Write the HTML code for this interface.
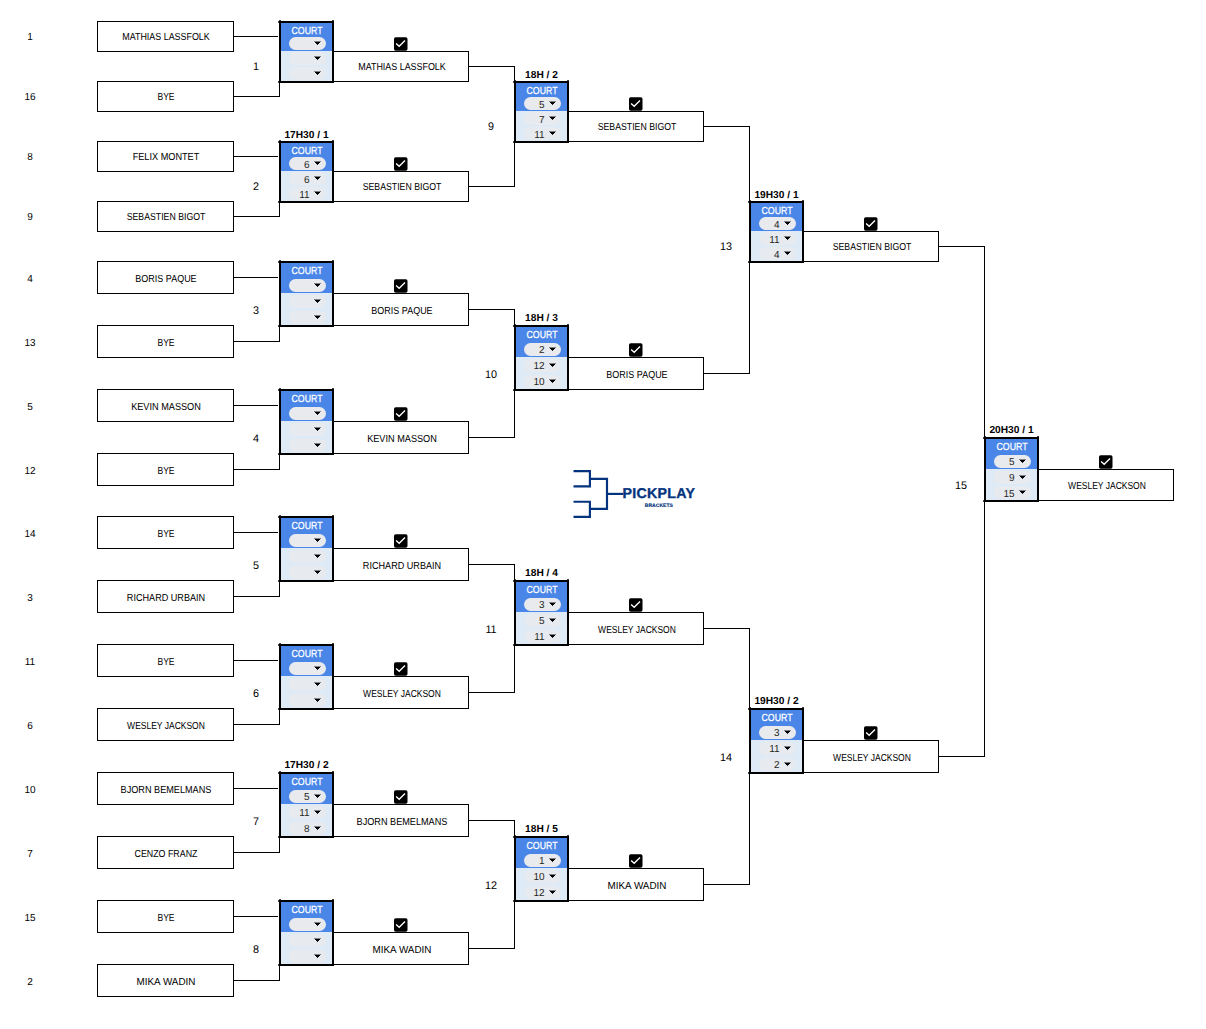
<!DOCTYPE html>
<html lang="en"><head><meta charset="utf-8"><title>Pickplay Brackets</title>
<style>
html,body{margin:0;padding:0;background:#fff}
body{width:1206px;height:1029px;position:relative;overflow:hidden;font-family:"Liberation Sans",sans-serif;color:#000;text-rendering:geometricPrecision}
section{display:contents}
i,div,svg{position:absolute;display:block}
.k{background:#000}
.nb{background:#000;opacity:.75}
.box{border:1px solid #000;box-sizing:border-box;background:#fff}
.t{width:200px;text-align:center;font-size:10.2px;line-height:12px;height:12px;white-space:nowrap;transform:scaleX(0.875);transform-origin:50% 50%}
.b{font-weight:bold;transform:scaleX(1)}
.d{transform:scaleX(.98)}
.m{font-size:11px}
.w{color:#fff;-webkit-text-stroke:0.25px #fff}
.court{width:55px;box-sizing:border-box;border:2px solid #000;background:#deeaf6}
.court .hd{left:0;top:0;width:51px;background:#4a86e8}
.pill{width:37.3px;height:13px;border-radius:6.5px;background:#e8eaed}
.pill.lt{background:#e7eaee}
.ar{width:7px;height:4px;background:linear-gradient(rgba(0,0,0,.45),rgba(0,0,0,.45)) 0 0/7px 1px no-repeat,linear-gradient(#000,#000) 1px 1px/5px 1px no-repeat,linear-gradient(#000,#000) 2px 2px/3px 1px no-repeat,linear-gradient(rgba(0,0,0,.85),rgba(0,0,0,.85)) 3px 3px/1px 1px no-repeat}
.n{width:30.5px;text-align:right;font-size:10.2px;line-height:12px;height:12px;white-space:nowrap;color:#1f1f1f;transform:scaleX(.98);transform-origin:100% 50%}
.pp{font-weight:bold;font-size:14.2px;line-height:14px;letter-spacing:0.32px;color:#04337e;-webkit-text-stroke:0.35px #04337e;white-space:nowrap;transform-origin:0 0}
.br{font-weight:bold;font-size:5px;line-height:6px;letter-spacing:0.05px;color:#04337e;-webkit-text-stroke:0.15px #04337e;white-space:nowrap;transform-origin:0 0}
.n0{transform:scaleX(0.875)}
.n1{transform:scaleX(0.842)}
.n2{transform:scaleX(0.899)}
.n3{transform:scaleX(0.858)}
.n4{transform:scaleX(0.882)}
.n5{transform:scaleX(0.899)}
.n6{transform:scaleX(0.892)}
.n7{transform:scaleX(0.834)}
.n8{transform:scaleX(0.896)}
.n9{transform:scaleX(0.868)}
.n10{transform:scaleX(0.968)}
.n11{transform:scaleX(0.861)}
</style></head>
<body>
<section class="slot">
<div class="t d" style="left:-70.3px;top:32px">1</div>
<div class="box" style="left:97px;top:21px;width:137px;height:31px"></div>
<div class="t n0" style="left:66px;top:32px">MATHIAS LASSFOLK</div>
</section>
<section class="slot">
<div class="t d" style="left:-70.3px;top:92px">16</div>
<div class="box" style="left:97px;top:81px;width:137px;height:31px"></div>
<div class="t n1" style="left:66px;top:92px">BYE</div>
</section>
<section class="slot">
<div class="t d" style="left:-70.3px;top:152px">8</div>
<div class="box" style="left:97px;top:141px;width:137px;height:31px"></div>
<div class="t n2" style="left:66px;top:152px">FELIX MONTET</div>
</section>
<section class="slot">
<div class="t d" style="left:-70.3px;top:212px">9</div>
<div class="box" style="left:97px;top:201px;width:137px;height:31px"></div>
<div class="t n3" style="left:66px;top:212px">SEBASTIEN BIGOT</div>
</section>
<section class="slot">
<div class="t d" style="left:-70.3px;top:274px">4</div>
<div class="box" style="left:97px;top:261px;width:137px;height:33px"></div>
<div class="t n4" style="left:66px;top:274px">BORIS PAQUE</div>
</section>
<section class="slot">
<div class="t d" style="left:-70.3px;top:338px">13</div>
<div class="box" style="left:97px;top:325px;width:137px;height:33px"></div>
<div class="t n1" style="left:66px;top:338px">BYE</div>
</section>
<section class="slot">
<div class="t d" style="left:-70.3px;top:402px">5</div>
<div class="box" style="left:97px;top:389px;width:137px;height:33px"></div>
<div class="t n5" style="left:66px;top:402px">KEVIN MASSON</div>
</section>
<section class="slot">
<div class="t d" style="left:-70.3px;top:466px">12</div>
<div class="box" style="left:97px;top:453px;width:137px;height:33px"></div>
<div class="t n1" style="left:66px;top:466px">BYE</div>
</section>
<section class="slot">
<div class="t d" style="left:-70.3px;top:529px">14</div>
<div class="box" style="left:97px;top:516px;width:137px;height:33px"></div>
<div class="t n1" style="left:66px;top:529px">BYE</div>
</section>
<section class="slot">
<div class="t d" style="left:-70.3px;top:593px">3</div>
<div class="box" style="left:97px;top:580px;width:137px;height:33px"></div>
<div class="t n6" style="left:66px;top:593px">RICHARD URBAIN</div>
</section>
<section class="slot">
<div class="t d" style="left:-70.3px;top:657px">11</div>
<div class="box" style="left:97px;top:644px;width:137px;height:33px"></div>
<div class="t n1" style="left:66px;top:657px">BYE</div>
</section>
<section class="slot">
<div class="t d" style="left:-70.3px;top:721px">6</div>
<div class="box" style="left:97px;top:708px;width:137px;height:33px"></div>
<div class="t n7" style="left:66px;top:721px">WESLEY JACKSON</div>
</section>
<section class="slot">
<div class="t d" style="left:-70.3px;top:785px">10</div>
<div class="box" style="left:97px;top:772px;width:137px;height:33px"></div>
<div class="t n8" style="left:66px;top:785px">BJORN BEMELMANS</div>
</section>
<section class="slot">
<div class="t d" style="left:-70.3px;top:849px">7</div>
<div class="box" style="left:97px;top:836px;width:137px;height:33px"></div>
<div class="t n9" style="left:66px;top:849px">CENZO FRANZ</div>
</section>
<section class="slot">
<div class="t d" style="left:-70.3px;top:913px">15</div>
<div class="box" style="left:97px;top:900px;width:137px;height:33px"></div>
<div class="t n1" style="left:66px;top:913px">BYE</div>
</section>
<section class="slot">
<div class="t d" style="left:-70.3px;top:977px">2</div>
<div class="box" style="left:97px;top:964px;width:137px;height:33px"></div>
<div class="t n10" style="left:66px;top:977px">MIKA WADIN</div>
</section>
<section class="lines">
<i class="k" style="left:234px;top:36px;width:44px;height:1px"></i>
<i class="k" style="left:234px;top:96px;width:46px;height:1px"></i>
<i class="k" style="left:279px;top:83px;width:1px;height:13px"></i>
<i class="k" style="left:234px;top:156px;width:44px;height:1px"></i>
<i class="k" style="left:234px;top:216px;width:46px;height:1px"></i>
<i class="k" style="left:279px;top:203px;width:1px;height:13px"></i>
<i class="k" style="left:234px;top:277px;width:44px;height:1px"></i>
<i class="k" style="left:234px;top:341px;width:46px;height:1px"></i>
<i class="k" style="left:279px;top:327px;width:1px;height:14px"></i>
<i class="k" style="left:234px;top:405px;width:44px;height:1px"></i>
<i class="k" style="left:234px;top:469px;width:46px;height:1px"></i>
<i class="k" style="left:279px;top:455px;width:1px;height:14px"></i>
<i class="k" style="left:234px;top:532px;width:44px;height:1px"></i>
<i class="k" style="left:234px;top:596px;width:46px;height:1px"></i>
<i class="k" style="left:279px;top:582px;width:1px;height:14px"></i>
<i class="k" style="left:234px;top:660px;width:44px;height:1px"></i>
<i class="k" style="left:234px;top:724px;width:46px;height:1px"></i>
<i class="k" style="left:279px;top:710px;width:1px;height:14px"></i>
<i class="k" style="left:234px;top:788px;width:44px;height:1px"></i>
<i class="k" style="left:234px;top:852px;width:46px;height:1px"></i>
<i class="k" style="left:279px;top:838px;width:1px;height:14px"></i>
<i class="k" style="left:234px;top:916px;width:44px;height:1px"></i>
<i class="k" style="left:234px;top:980px;width:46px;height:1px"></i>
<i class="k" style="left:279px;top:966px;width:1px;height:14px"></i>
<i class="k" style="left:469px;top:66px;width:46px;height:1px"></i>
<i class="k" style="left:469px;top:186px;width:46px;height:1px"></i>
<i class="k" style="left:514px;top:66px;width:1px;height:15px"></i>
<i class="k" style="left:514px;top:143px;width:1px;height:43px"></i>
<i class="k" style="left:469px;top:309px;width:46px;height:1px"></i>
<i class="k" style="left:469px;top:437px;width:46px;height:1px"></i>
<i class="k" style="left:514px;top:309px;width:1px;height:16px"></i>
<i class="k" style="left:514px;top:391px;width:1px;height:46px"></i>
<i class="k" style="left:469px;top:564px;width:46px;height:1px"></i>
<i class="k" style="left:469px;top:692px;width:46px;height:1px"></i>
<i class="k" style="left:514px;top:564px;width:1px;height:16px"></i>
<i class="k" style="left:514px;top:646px;width:1px;height:46px"></i>
<i class="k" style="left:469px;top:820px;width:46px;height:1px"></i>
<i class="k" style="left:469px;top:948px;width:46px;height:1px"></i>
<i class="k" style="left:514px;top:820px;width:1px;height:16px"></i>
<i class="k" style="left:514px;top:902px;width:1px;height:46px"></i>
<i class="k" style="left:704px;top:126px;width:46px;height:1px"></i>
<i class="k" style="left:704px;top:373px;width:46px;height:1px"></i>
<i class="k" style="left:749px;top:126px;width:1px;height:75px"></i>
<i class="k" style="left:749px;top:263px;width:1px;height:110px"></i>
<i class="k" style="left:704px;top:628px;width:46px;height:1px"></i>
<i class="k" style="left:704px;top:884px;width:46px;height:1px"></i>
<i class="k" style="left:749px;top:628px;width:1px;height:80px"></i>
<i class="k" style="left:749px;top:774px;width:1px;height:110px"></i>
<i class="k" style="left:939px;top:246px;width:46px;height:1px"></i>
<i class="k" style="left:939px;top:756px;width:46px;height:1px"></i>
<i class="k" style="left:984px;top:246px;width:1px;height:191px"></i>
<i class="k" style="left:984px;top:502px;width:1px;height:254px"></i>
</section>
<section class="match">
<div class="t d m" style="left:155.8px;top:61px">1</div>
<div class="box" style="left:333px;top:51px;width:136px;height:31px"></div>
<div class="t n0" style="left:301.5px;top:62px">MATHIAS LASSFOLK</div>
<svg class="cb" style="left:394px;top:37px" width="14" height="14" viewBox="0 0 14 14"><rect x="0" y="0.3" width="13.5" height="13.5" rx="1.7" fill="#000"/><path d="M2.1 6.4 L5.2 9.3 L11.0 3.6" fill="none" stroke="#fff" stroke-width="1.35"/></svg>
<div class="court" style="left:279px;top:21px;height:62px">
<i class="hd" style="height:28px"></i>
</div>
<i class="nb" style="left:278px;top:21px;width:1px;height:2px"></i>
<i class="nb" style="left:279px;top:20px;width:2px;height:1px"></i>
<i class="nb" style="left:332px;top:20px;width:2px;height:1px"></i>
<i class="nb" style="left:278px;top:81px;width:1px;height:2px"></i>
<div class="t w n11" style="left:206.5px;top:26px">COURT</div>
<i class="pill" style="left:288.6px;top:37px"></i>
<i class="ar" style="left:314px;top:41px"></i>
<i class="pill lt" style="left:288.6px;top:52px"></i>
<i class="ar" style="left:314px;top:56px"></i>
<i class="pill lt" style="left:288.6px;top:67px"></i>
<i class="ar" style="left:314px;top:71px"></i>
</section>
<section class="match">
<div class="t d m" style="left:155.8px;top:181px">2</div>
<div class="t b" style="left:206.5px;top:130px">17H30 / 1</div>
<div class="box" style="left:333px;top:171px;width:136px;height:31px"></div>
<div class="t n3" style="left:301.5px;top:182px">SEBASTIEN BIGOT</div>
<svg class="cb" style="left:394px;top:157px" width="14" height="14" viewBox="0 0 14 14"><rect x="0" y="0.3" width="13.5" height="13.5" rx="1.7" fill="#000"/><path d="M2.1 6.4 L5.2 9.3 L11.0 3.6" fill="none" stroke="#fff" stroke-width="1.35"/></svg>
<div class="court" style="left:279px;top:141px;height:62px">
<i class="hd" style="height:28px"></i>
</div>
<i class="nb" style="left:278px;top:141px;width:1px;height:2px"></i>
<i class="nb" style="left:279px;top:140px;width:2px;height:1px"></i>
<i class="nb" style="left:332px;top:140px;width:2px;height:1px"></i>
<i class="nb" style="left:278px;top:201px;width:1px;height:2px"></i>
<div class="t w n11" style="left:206.5px;top:146px">COURT</div>
<i class="pill" style="left:288.6px;top:157px"></i>
<i class="ar" style="left:314px;top:161px"></i>
<div class="n" style="left:278.7px;top:160px">6</div>
<i class="pill lt" style="left:288.6px;top:172px"></i>
<i class="ar" style="left:314px;top:176px"></i>
<div class="n" style="left:278.7px;top:175px">6</div>
<i class="pill lt" style="left:288.6px;top:187px"></i>
<i class="ar" style="left:314px;top:191px"></i>
<div class="n" style="left:278.7px;top:190px">11</div>
</section>
<section class="match">
<div class="t d m" style="left:155.8px;top:305px">3</div>
<div class="box" style="left:333px;top:293px;width:136px;height:33px"></div>
<div class="t n4" style="left:301.5px;top:306px">BORIS PAQUE</div>
<svg class="cb" style="left:394px;top:279px" width="14" height="14" viewBox="0 0 14 14"><rect x="0" y="0.3" width="13.5" height="13.5" rx="1.7" fill="#000"/><path d="M2.1 6.4 L5.2 9.3 L11.0 3.6" fill="none" stroke="#fff" stroke-width="1.35"/></svg>
<div class="court" style="left:279px;top:261px;height:66px">
<i class="hd" style="height:30px"></i>
</div>
<i class="nb" style="left:278px;top:261px;width:1px;height:2px"></i>
<i class="nb" style="left:279px;top:260px;width:2px;height:1px"></i>
<i class="nb" style="left:332px;top:260px;width:2px;height:1px"></i>
<i class="nb" style="left:278px;top:325px;width:1px;height:2px"></i>
<div class="t w n11" style="left:206.5px;top:266px">COURT</div>
<i class="pill" style="left:288.6px;top:279px"></i>
<i class="ar" style="left:314px;top:283px"></i>
<i class="pill lt" style="left:288.6px;top:295px"></i>
<i class="ar" style="left:314px;top:299px"></i>
<i class="pill lt" style="left:288.6px;top:311px"></i>
<i class="ar" style="left:314px;top:315px"></i>
</section>
<section class="match">
<div class="t d m" style="left:155.8px;top:433px">4</div>
<div class="box" style="left:333px;top:421px;width:136px;height:33px"></div>
<div class="t n5" style="left:301.5px;top:434px">KEVIN MASSON</div>
<svg class="cb" style="left:394px;top:407px" width="14" height="14" viewBox="0 0 14 14"><rect x="0" y="0.3" width="13.5" height="13.5" rx="1.7" fill="#000"/><path d="M2.1 6.4 L5.2 9.3 L11.0 3.6" fill="none" stroke="#fff" stroke-width="1.35"/></svg>
<div class="court" style="left:279px;top:389px;height:66px">
<i class="hd" style="height:30px"></i>
</div>
<i class="nb" style="left:278px;top:389px;width:1px;height:2px"></i>
<i class="nb" style="left:279px;top:388px;width:2px;height:1px"></i>
<i class="nb" style="left:332px;top:388px;width:2px;height:1px"></i>
<i class="nb" style="left:278px;top:453px;width:1px;height:2px"></i>
<div class="t w n11" style="left:206.5px;top:394px">COURT</div>
<i class="pill" style="left:288.6px;top:407px"></i>
<i class="ar" style="left:314px;top:411px"></i>
<i class="pill lt" style="left:288.6px;top:423px"></i>
<i class="ar" style="left:314px;top:427px"></i>
<i class="pill lt" style="left:288.6px;top:439px"></i>
<i class="ar" style="left:314px;top:443px"></i>
</section>
<section class="match">
<div class="t d m" style="left:155.8px;top:560px">5</div>
<div class="box" style="left:333px;top:548px;width:136px;height:33px"></div>
<div class="t n6" style="left:301.5px;top:561px">RICHARD URBAIN</div>
<svg class="cb" style="left:394px;top:534px" width="14" height="14" viewBox="0 0 14 14"><rect x="0" y="0.3" width="13.5" height="13.5" rx="1.7" fill="#000"/><path d="M2.1 6.4 L5.2 9.3 L11.0 3.6" fill="none" stroke="#fff" stroke-width="1.35"/></svg>
<div class="court" style="left:279px;top:516px;height:66px">
<i class="hd" style="height:30px"></i>
</div>
<i class="nb" style="left:278px;top:516px;width:1px;height:2px"></i>
<i class="nb" style="left:279px;top:515px;width:2px;height:1px"></i>
<i class="nb" style="left:332px;top:515px;width:2px;height:1px"></i>
<i class="nb" style="left:278px;top:580px;width:1px;height:2px"></i>
<div class="t w n11" style="left:206.5px;top:521px">COURT</div>
<i class="pill" style="left:288.6px;top:534px"></i>
<i class="ar" style="left:314px;top:538px"></i>
<i class="pill lt" style="left:288.6px;top:550px"></i>
<i class="ar" style="left:314px;top:554px"></i>
<i class="pill lt" style="left:288.6px;top:566px"></i>
<i class="ar" style="left:314px;top:570px"></i>
</section>
<section class="match">
<div class="t d m" style="left:155.8px;top:688px">6</div>
<div class="box" style="left:333px;top:676px;width:136px;height:33px"></div>
<div class="t n7" style="left:301.5px;top:689px">WESLEY JACKSON</div>
<svg class="cb" style="left:394px;top:662px" width="14" height="14" viewBox="0 0 14 14"><rect x="0" y="0.3" width="13.5" height="13.5" rx="1.7" fill="#000"/><path d="M2.1 6.4 L5.2 9.3 L11.0 3.6" fill="none" stroke="#fff" stroke-width="1.35"/></svg>
<div class="court" style="left:279px;top:644px;height:66px">
<i class="hd" style="height:30px"></i>
</div>
<i class="nb" style="left:278px;top:644px;width:1px;height:2px"></i>
<i class="nb" style="left:279px;top:643px;width:2px;height:1px"></i>
<i class="nb" style="left:332px;top:643px;width:2px;height:1px"></i>
<i class="nb" style="left:278px;top:708px;width:1px;height:2px"></i>
<div class="t w n11" style="left:206.5px;top:649px">COURT</div>
<i class="pill" style="left:288.6px;top:662px"></i>
<i class="ar" style="left:314px;top:666px"></i>
<i class="pill lt" style="left:288.6px;top:678px"></i>
<i class="ar" style="left:314px;top:682px"></i>
<i class="pill lt" style="left:288.6px;top:694px"></i>
<i class="ar" style="left:314px;top:698px"></i>
</section>
<section class="match">
<div class="t d m" style="left:155.8px;top:816px">7</div>
<div class="t b" style="left:206.5px;top:760px">17H30 / 2</div>
<div class="box" style="left:333px;top:804px;width:136px;height:33px"></div>
<div class="t n8" style="left:301.5px;top:817px">BJORN BEMELMANS</div>
<svg class="cb" style="left:394px;top:790px" width="14" height="14" viewBox="0 0 14 14"><rect x="0" y="0.3" width="13.5" height="13.5" rx="1.7" fill="#000"/><path d="M2.1 6.4 L5.2 9.3 L11.0 3.6" fill="none" stroke="#fff" stroke-width="1.35"/></svg>
<div class="court" style="left:279px;top:772px;height:66px">
<i class="hd" style="height:30px"></i>
</div>
<i class="nb" style="left:278px;top:772px;width:1px;height:2px"></i>
<i class="nb" style="left:279px;top:771px;width:2px;height:1px"></i>
<i class="nb" style="left:332px;top:771px;width:2px;height:1px"></i>
<i class="nb" style="left:278px;top:836px;width:1px;height:2px"></i>
<div class="t w n11" style="left:206.5px;top:777px">COURT</div>
<i class="pill" style="left:288.6px;top:790px"></i>
<i class="ar" style="left:314px;top:794px"></i>
<div class="n" style="left:278.7px;top:792px">5</div>
<i class="pill lt" style="left:288.6px;top:806px"></i>
<i class="ar" style="left:314px;top:810px"></i>
<div class="n" style="left:278.7px;top:808px">11</div>
<i class="pill lt" style="left:288.6px;top:822px"></i>
<i class="ar" style="left:314px;top:826px"></i>
<div class="n" style="left:278.7px;top:824px">8</div>
</section>
<section class="match">
<div class="t d m" style="left:155.8px;top:944px">8</div>
<div class="box" style="left:333px;top:932px;width:136px;height:33px"></div>
<div class="t n10" style="left:301.5px;top:945px">MIKA WADIN</div>
<svg class="cb" style="left:394px;top:918px" width="14" height="14" viewBox="0 0 14 14"><rect x="0" y="0.3" width="13.5" height="13.5" rx="1.7" fill="#000"/><path d="M2.1 6.4 L5.2 9.3 L11.0 3.6" fill="none" stroke="#fff" stroke-width="1.35"/></svg>
<div class="court" style="left:279px;top:900px;height:66px">
<i class="hd" style="height:30px"></i>
</div>
<i class="nb" style="left:278px;top:900px;width:1px;height:2px"></i>
<i class="nb" style="left:279px;top:899px;width:2px;height:1px"></i>
<i class="nb" style="left:332px;top:899px;width:2px;height:1px"></i>
<i class="nb" style="left:278px;top:964px;width:1px;height:2px"></i>
<div class="t w n11" style="left:206.5px;top:905px">COURT</div>
<i class="pill" style="left:288.6px;top:918px"></i>
<i class="ar" style="left:314px;top:922px"></i>
<i class="pill lt" style="left:288.6px;top:934px"></i>
<i class="ar" style="left:314px;top:938px"></i>
<i class="pill lt" style="left:288.6px;top:950px"></i>
<i class="ar" style="left:314px;top:954px"></i>
</section>
<section class="match">
<div class="t d m" style="left:390.8px;top:121px">9</div>
<div class="t b" style="left:441.5px;top:70px">18H / 2</div>
<div class="box" style="left:568px;top:111px;width:136px;height:31px"></div>
<div class="t n3" style="left:536.5px;top:122px">SEBASTIEN BIGOT</div>
<svg class="cb" style="left:629px;top:97px" width="14" height="14" viewBox="0 0 14 14"><rect x="0" y="0.3" width="13.5" height="13.5" rx="1.7" fill="#000"/><path d="M2.1 6.4 L5.2 9.3 L11.0 3.6" fill="none" stroke="#fff" stroke-width="1.35"/></svg>
<div class="court" style="left:514px;top:81px;height:62px">
<i class="hd" style="height:28px"></i>
</div>
<i class="nb" style="left:513px;top:81px;width:1px;height:2px"></i>
<i class="nb" style="left:514px;top:80px;width:2px;height:1px"></i>
<i class="nb" style="left:567px;top:80px;width:2px;height:1px"></i>
<i class="nb" style="left:513px;top:141px;width:1px;height:2px"></i>
<div class="t w n11" style="left:441.5px;top:86px">COURT</div>
<i class="pill" style="left:523.6px;top:97px"></i>
<i class="ar" style="left:549px;top:101px"></i>
<div class="n" style="left:513.7px;top:100px">5</div>
<i class="pill lt" style="left:523.6px;top:112px"></i>
<i class="ar" style="left:549px;top:116px"></i>
<div class="n" style="left:513.7px;top:115px">7</div>
<i class="pill lt" style="left:523.6px;top:127px"></i>
<i class="ar" style="left:549px;top:131px"></i>
<div class="n" style="left:513.7px;top:130px">11</div>
</section>
<section class="match">
<div class="t d m" style="left:390.8px;top:369px">10</div>
<div class="t b" style="left:441.5px;top:313px">18H / 3</div>
<div class="box" style="left:568px;top:357px;width:136px;height:33px"></div>
<div class="t n4" style="left:536.5px;top:370px">BORIS PAQUE</div>
<svg class="cb" style="left:629px;top:343px" width="14" height="14" viewBox="0 0 14 14"><rect x="0" y="0.3" width="13.5" height="13.5" rx="1.7" fill="#000"/><path d="M2.1 6.4 L5.2 9.3 L11.0 3.6" fill="none" stroke="#fff" stroke-width="1.35"/></svg>
<div class="court" style="left:514px;top:325px;height:66px">
<i class="hd" style="height:30px"></i>
</div>
<i class="nb" style="left:513px;top:325px;width:1px;height:2px"></i>
<i class="nb" style="left:514px;top:324px;width:2px;height:1px"></i>
<i class="nb" style="left:567px;top:324px;width:2px;height:1px"></i>
<i class="nb" style="left:513px;top:389px;width:1px;height:2px"></i>
<div class="t w n11" style="left:441.5px;top:330px">COURT</div>
<i class="pill" style="left:523.6px;top:343px"></i>
<i class="ar" style="left:549px;top:347px"></i>
<div class="n" style="left:513.7px;top:345px">2</div>
<i class="pill lt" style="left:523.6px;top:359px"></i>
<i class="ar" style="left:549px;top:363px"></i>
<div class="n" style="left:513.7px;top:361px">12</div>
<i class="pill lt" style="left:523.6px;top:375px"></i>
<i class="ar" style="left:549px;top:379px"></i>
<div class="n" style="left:513.7px;top:377px">10</div>
</section>
<section class="match">
<div class="t d m" style="left:390.8px;top:624px">11</div>
<div class="t b" style="left:441.5px;top:568px">18H / 4</div>
<div class="box" style="left:568px;top:612px;width:136px;height:33px"></div>
<div class="t n7" style="left:536.5px;top:625px">WESLEY JACKSON</div>
<svg class="cb" style="left:629px;top:598px" width="14" height="14" viewBox="0 0 14 14"><rect x="0" y="0.3" width="13.5" height="13.5" rx="1.7" fill="#000"/><path d="M2.1 6.4 L5.2 9.3 L11.0 3.6" fill="none" stroke="#fff" stroke-width="1.35"/></svg>
<div class="court" style="left:514px;top:580px;height:66px">
<i class="hd" style="height:30px"></i>
</div>
<i class="nb" style="left:513px;top:580px;width:1px;height:2px"></i>
<i class="nb" style="left:514px;top:579px;width:2px;height:1px"></i>
<i class="nb" style="left:567px;top:579px;width:2px;height:1px"></i>
<i class="nb" style="left:513px;top:644px;width:1px;height:2px"></i>
<div class="t w n11" style="left:441.5px;top:585px">COURT</div>
<i class="pill" style="left:523.6px;top:598px"></i>
<i class="ar" style="left:549px;top:602px"></i>
<div class="n" style="left:513.7px;top:600px">3</div>
<i class="pill lt" style="left:523.6px;top:614px"></i>
<i class="ar" style="left:549px;top:618px"></i>
<div class="n" style="left:513.7px;top:616px">5</div>
<i class="pill lt" style="left:523.6px;top:630px"></i>
<i class="ar" style="left:549px;top:634px"></i>
<div class="n" style="left:513.7px;top:632px">11</div>
</section>
<section class="match">
<div class="t d m" style="left:390.8px;top:880px">12</div>
<div class="t b" style="left:441.5px;top:824px">18H / 5</div>
<div class="box" style="left:568px;top:868px;width:136px;height:33px"></div>
<div class="t n10" style="left:536.5px;top:881px">MIKA WADIN</div>
<svg class="cb" style="left:629px;top:854px" width="14" height="14" viewBox="0 0 14 14"><rect x="0" y="0.3" width="13.5" height="13.5" rx="1.7" fill="#000"/><path d="M2.1 6.4 L5.2 9.3 L11.0 3.6" fill="none" stroke="#fff" stroke-width="1.35"/></svg>
<div class="court" style="left:514px;top:836px;height:66px">
<i class="hd" style="height:30px"></i>
</div>
<i class="nb" style="left:513px;top:836px;width:1px;height:2px"></i>
<i class="nb" style="left:514px;top:835px;width:2px;height:1px"></i>
<i class="nb" style="left:567px;top:835px;width:2px;height:1px"></i>
<i class="nb" style="left:513px;top:900px;width:1px;height:2px"></i>
<div class="t w n11" style="left:441.5px;top:841px">COURT</div>
<i class="pill" style="left:523.6px;top:854px"></i>
<i class="ar" style="left:549px;top:858px"></i>
<div class="n" style="left:513.7px;top:856px">1</div>
<i class="pill lt" style="left:523.6px;top:870px"></i>
<i class="ar" style="left:549px;top:874px"></i>
<div class="n" style="left:513.7px;top:872px">10</div>
<i class="pill lt" style="left:523.6px;top:886px"></i>
<i class="ar" style="left:549px;top:890px"></i>
<div class="n" style="left:513.7px;top:888px">12</div>
</section>
<section class="match">
<div class="t d m" style="left:625.8px;top:241px">13</div>
<div class="t b" style="left:676.5px;top:190px">19H30 / 1</div>
<div class="box" style="left:803px;top:231px;width:136px;height:31px"></div>
<div class="t n3" style="left:771.5px;top:242px">SEBASTIEN BIGOT</div>
<svg class="cb" style="left:864px;top:217px" width="14" height="14" viewBox="0 0 14 14"><rect x="0" y="0.3" width="13.5" height="13.5" rx="1.7" fill="#000"/><path d="M2.1 6.4 L5.2 9.3 L11.0 3.6" fill="none" stroke="#fff" stroke-width="1.35"/></svg>
<div class="court" style="left:749px;top:201px;height:62px">
<i class="hd" style="height:28px"></i>
</div>
<i class="nb" style="left:748px;top:201px;width:1px;height:2px"></i>
<i class="nb" style="left:749px;top:200px;width:2px;height:1px"></i>
<i class="nb" style="left:802px;top:200px;width:2px;height:1px"></i>
<i class="nb" style="left:748px;top:261px;width:1px;height:2px"></i>
<div class="t w n11" style="left:676.5px;top:206px">COURT</div>
<i class="pill" style="left:758.6px;top:217px"></i>
<i class="ar" style="left:784px;top:221px"></i>
<div class="n" style="left:748.7px;top:220px">4</div>
<i class="pill lt" style="left:758.6px;top:232px"></i>
<i class="ar" style="left:784px;top:236px"></i>
<div class="n" style="left:748.7px;top:235px">11</div>
<i class="pill lt" style="left:758.6px;top:247px"></i>
<i class="ar" style="left:784px;top:251px"></i>
<div class="n" style="left:748.7px;top:250px">4</div>
</section>
<section class="match">
<div class="t d m" style="left:625.8px;top:752px">14</div>
<div class="t b" style="left:676.5px;top:696px">19H30 / 2</div>
<div class="box" style="left:803px;top:740px;width:136px;height:33px"></div>
<div class="t n7" style="left:771.5px;top:753px">WESLEY JACKSON</div>
<svg class="cb" style="left:864px;top:726px" width="14" height="14" viewBox="0 0 14 14"><rect x="0" y="0.3" width="13.5" height="13.5" rx="1.7" fill="#000"/><path d="M2.1 6.4 L5.2 9.3 L11.0 3.6" fill="none" stroke="#fff" stroke-width="1.35"/></svg>
<div class="court" style="left:749px;top:708px;height:66px">
<i class="hd" style="height:30px"></i>
</div>
<i class="nb" style="left:748px;top:708px;width:1px;height:2px"></i>
<i class="nb" style="left:749px;top:707px;width:2px;height:1px"></i>
<i class="nb" style="left:802px;top:707px;width:2px;height:1px"></i>
<i class="nb" style="left:748px;top:772px;width:1px;height:2px"></i>
<div class="t w n11" style="left:676.5px;top:713px">COURT</div>
<i class="pill" style="left:758.6px;top:726px"></i>
<i class="ar" style="left:784px;top:730px"></i>
<div class="n" style="left:748.7px;top:728px">3</div>
<i class="pill lt" style="left:758.6px;top:742px"></i>
<i class="ar" style="left:784px;top:746px"></i>
<div class="n" style="left:748.7px;top:744px">11</div>
<i class="pill lt" style="left:758.6px;top:758px"></i>
<i class="ar" style="left:784px;top:762px"></i>
<div class="n" style="left:748.7px;top:760px">2</div>
</section>
<section class="match">
<div class="t d m" style="left:860.8px;top:480px">15</div>
<div class="t b" style="left:911.5px;top:425px">20H30 / 1</div>
<div class="box" style="left:1038px;top:469px;width:136px;height:32px"></div>
<div class="t n7" style="left:1006.5px;top:481px">WESLEY JACKSON</div>
<svg class="cb" style="left:1099px;top:455px" width="14" height="14" viewBox="0 0 14 14"><rect x="0" y="0.3" width="13.5" height="13.5" rx="1.7" fill="#000"/><path d="M2.1 6.4 L5.2 9.3 L11.0 3.6" fill="none" stroke="#fff" stroke-width="1.35"/></svg>
<div class="court" style="left:984px;top:437px;height:65px">
<i class="hd" style="height:30px"></i>
</div>
<i class="nb" style="left:983px;top:437px;width:1px;height:2px"></i>
<i class="nb" style="left:984px;top:436px;width:2px;height:1px"></i>
<i class="nb" style="left:1037px;top:436px;width:2px;height:1px"></i>
<i class="nb" style="left:983px;top:500px;width:1px;height:2px"></i>
<div class="t w n11" style="left:911.5px;top:442px">COURT</div>
<i class="pill" style="left:993.6px;top:455px"></i>
<i class="ar" style="left:1019px;top:459px"></i>
<div class="n" style="left:983.7px;top:457px">5</div>
<i class="pill lt" style="left:993.6px;top:471px"></i>
<i class="ar" style="left:1019px;top:475px"></i>
<div class="n" style="left:983.7px;top:473px">9</div>
<i class="pill lt" style="left:993.6px;top:486px"></i>
<i class="ar" style="left:1019px;top:490px"></i>
<div class="n" style="left:983.7px;top:489px">15</div>
</section>
<section class="logo">
<svg style="position:absolute;left:570px;top:465px" width="60" height="56" viewBox="570 465 60 56" fill="none" stroke="#04337e" stroke-width="2.15">
<path d="M573.5 471.1 H589.9 V486.4 H573.5"/>
<path d="M573.5 501.7 H589.9 V516.8 H573.5"/>
<path d="M589.9 478.9 H607 V508.8 H589.9"/>
<path d="M607 493.9 H623.5"/>
</svg>
<div class="pp" style="left:622.4px;top:487.1px">PICKPLAY</div>
<div class="br" style="left:644.8px;top:502.8px">BRACKETS</div>
</section>
</body></html>
